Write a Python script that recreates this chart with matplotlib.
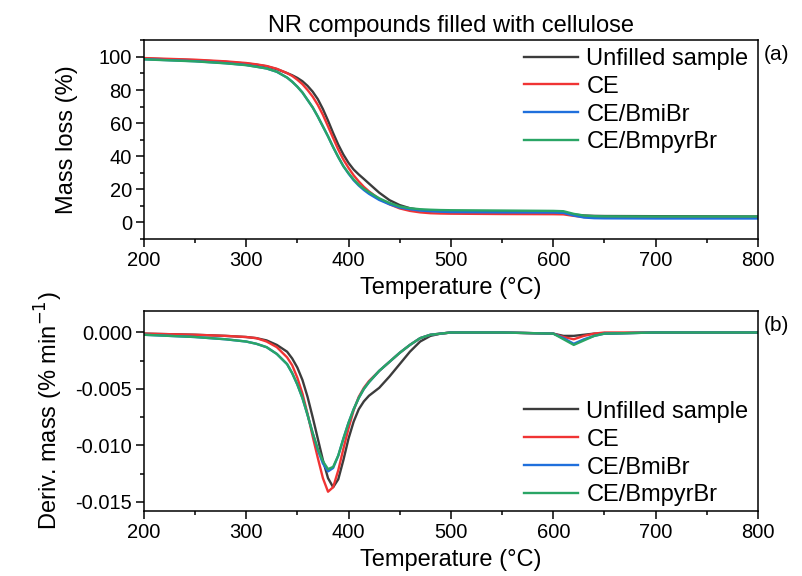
import matplotlib
matplotlib.use("Agg")
import matplotlib.pyplot as plt
from matplotlib.ticker import MultipleLocator

plt.rcParams['font.family'] = ['Liberation Sans', 'DejaVu Sans']

# -----------------------------
# Data
# -----------------------------
temps = [200, 250, 280, 300, 310, 320, 330, 340, 345, 350, 355, 360, 365, 370, 375,
         380, 385, 390, 395, 400, 405, 410, 415, 420, 430, 440, 450, 460, 470, 480,
         490, 500, 550, 600, 610, 620, 630, 640, 650, 700, 750, 800]

labels = ["Unfilled sample", "CE", "CE/BmiBr", "CE/BmpyrBr"]
colors = ["#3c3c3c", "#f03434", "#1f6fdc", "#2aa565"]

mass_unfilled = [99.0, 98.0, 97.0, 96.0, 95.3, 94.3, 92.6, 90.2, 88.9, 87.3, 85.3, 82.5,
                 79.0, 74.5, 68.5, 61.5, 54.0, 47.0, 41.0, 36.0, 32.0, 29.0, 26.3, 23.5,
                 18.0, 13.5, 10.5, 8.6, 7.6, 7.1, 6.8, 6.6, 6.3, 6.0, 5.8, 4.8, 4.2, 4.0,
                 3.9, 3.8, 3.7, 3.6]
mass_ce = [99.3, 98.3, 97.3, 96.3, 95.5, 94.5, 92.8, 90.2, 88.5, 86.2, 83.5, 80.0, 76.0,
           71.0, 65.0, 58.0, 51.0, 44.0, 38.0, 33.0, 28.5, 24.8, 21.5, 18.8, 14.2, 11.0,
           8.5, 7.0, 6.1, 5.6, 5.4, 5.3, 5.1, 5.0, 4.9, 4.0, 3.3, 3.0, 2.9, 2.9, 2.9, 2.9]
mass_bmibr = [98.6, 97.4, 96.2, 95.1, 94.1, 93.0, 91.0, 87.5, 85.0, 82.0, 78.5, 74.0,
              69.5, 64.0, 58.0, 52.0, 45.5, 39.5, 34.0, 29.5, 25.5, 22.3, 19.6, 17.3,
              13.6, 11.0, 9.0, 8.0, 7.2, 6.8, 6.5, 6.3, 6.1, 6.0, 5.8, 4.2, 3.0, 2.6,
              2.5, 2.4, 2.4, 2.4]
mass_bmpyrbr = [98.5, 97.3, 96.1, 95.0, 94.0, 93.0, 91.0, 87.5, 85.0, 82.0, 78.5, 74.0,
                69.5, 64.0, 58.0, 52.0, 45.5, 39.5, 34.0, 29.8, 26.0, 22.8, 20.3, 18.3,
                14.6, 11.8, 9.7, 8.6, 8.0, 7.7, 7.5, 7.4, 7.2, 7.0, 6.8, 5.2, 4.2, 3.8,
                3.7, 3.6, 3.6, 3.6]

dtg_unfilled = [-0.0001, -0.0002, -0.0003, -0.0004, -0.0005, -0.0007, -0.0011, -0.0017,
                -0.0023, -0.0031, -0.0042, -0.0057, -0.0075, -0.0094, -0.0113, -0.0129,
                -0.0137, -0.0130, -0.0113, -0.0094, -0.0079, -0.0068, -0.0061, -0.0056,
                -0.0049, -0.0039, -0.0028, -0.0017, -0.0008, -0.0003, -0.0001, 0.0, 0.0,
                -0.0001, -0.0003, -0.0003, -0.0002, -0.0001, -0.0001, 0.0, 0.0, 0.0]
dtg_ce = [-0.0001, -0.0002, -0.0003, -0.0004, -0.0005, -0.0008, -0.0013, -0.0022,
          -0.0029, -0.0040, -0.0054, -0.0072, -0.0092, -0.0111, -0.0129, -0.0141,
          -0.0137, -0.0122, -0.0103, -0.0085, -0.0069, -0.0057, -0.0049, -0.0043,
          -0.0034, -0.0026, -0.0018, -0.0011, -0.0005, -0.0002, -0.0001, 0.0, 0.0,
          -0.0001, -0.0004, -0.0006, -0.0003, -0.0001, 0.0, 0.0, 0.0, 0.0]
dtg_bmibr = [-0.0002, -0.0004, -0.0006, -0.0008, -0.0010, -0.0013, -0.0019, -0.0028,
             -0.0036, -0.0046, -0.0058, -0.0073, -0.0089, -0.0104, -0.0116, -0.0123,
             -0.0120, -0.0109, -0.0094, -0.0080, -0.0068, -0.0058, -0.0050, -0.0044,
             -0.0034, -0.0026, -0.0018, -0.0011, -0.0005, -0.0002, -0.0001, 0.0, 0.0,
             -0.0001, -0.0005, -0.0010, -0.0006, -0.0003, -0.0001, 0.0, 0.0, 0.0]
dtg_bmpyrbr = [-0.0002, -0.0004, -0.0006, -0.0008, -0.0010, -0.0013, -0.0019, -0.0028,
               -0.0036, -0.0046, -0.0058, -0.0073, -0.0089, -0.0103, -0.0114, -0.0121,
               -0.0119, -0.0109, -0.0094, -0.0080, -0.0068, -0.0058, -0.0050, -0.0044,
               -0.0034, -0.0026, -0.0018, -0.0011, -0.0005, -0.0002, -0.0001, 0.0, 0.0,
               -0.0001, -0.0006, -0.0011, -0.0007, -0.0003, -0.0001, 0.0, 0.0, 0.0]

mass_series = [mass_unfilled, mass_ce, mass_bmibr, mass_bmpyrbr]
dtg_series = [dtg_unfilled, dtg_ce, dtg_bmibr, dtg_bmpyrbr]

# -----------------------------
# Figure
# -----------------------------
fig = plt.figure(figsize=(8.03, 5.76), dpi=100)
ax1 = fig.add_axes([0.179, 0.585, 0.765, 0.345])
ax2 = fig.add_axes([0.179, 0.113, 0.765, 0.347])


def style_axis(ax):
    ax.set_xlim(200, 800)
    ax.xaxis.set_major_locator(MultipleLocator(100))
    ax.xaxis.set_minor_locator(MultipleLocator(50))
    ax.tick_params(which='both', direction='out', top=False, right=False,
                   labelsize=14.5, width=1.1, pad=3)
    ax.tick_params(which='major', length=5.5)
    ax.tick_params(which='minor', length=3)
    for sp in ax.spines.values():
        sp.set_linewidth(1.1)
    ax.set_xlabel("Temperature (°C)", fontsize=17, labelpad=5)


leg_kw = dict(frameon=False, fontsize=17, handlelength=2.3, handletextpad=0.35,
              labelspacing=0.25)

for vals, lab, col in zip(mass_series, labels, colors):
    ax1.plot(temps, vals, color=col, lw=1.7, label=lab)
ax1.set_ylim(-10, 110)
ax1.yaxis.set_major_locator(MultipleLocator(20))
ax1.yaxis.set_minor_locator(MultipleLocator(10))
ax1.set_ylabel("Mass loss (%)", fontsize=17, labelpad=15)
style_axis(ax1)
ax1.set_title("NR compounds filled with cellulose", fontsize=17, pad=6)
ax1.legend(loc='upper right', borderaxespad=0.0, bbox_to_anchor=(1.0, 1.01), **leg_kw)
ax1.text(1.01, 0.93, "(a)", transform=ax1.transAxes, fontsize=15, va='center')

for vals, lab, col in zip(dtg_series, labels, colors):
    ax2.plot(temps, vals, color=col, lw=1.7, label=lab)
ax2.set_ylim(-0.0158, 0.0019)
ax2.yaxis.set_major_locator(MultipleLocator(0.005))
ax2.yaxis.set_minor_locator(MultipleLocator(0.0025))
ax2.yaxis.set_major_formatter(plt.FuncFormatter(lambda v, p: f"{v:.3f}"))
ax2.set_ylabel("Deriv. mass (% min$^{-1}$)", fontsize=17, labelpad=7)
style_axis(ax2)
ax2.legend(loc='lower right', borderaxespad=0.0, bbox_to_anchor=(1.0, -0.025), **leg_kw)
ax2.text(1.01, 0.93, "(b)", transform=ax2.transAxes, fontsize=15, va='center')

fig.savefig("out.png", dpi=100)
